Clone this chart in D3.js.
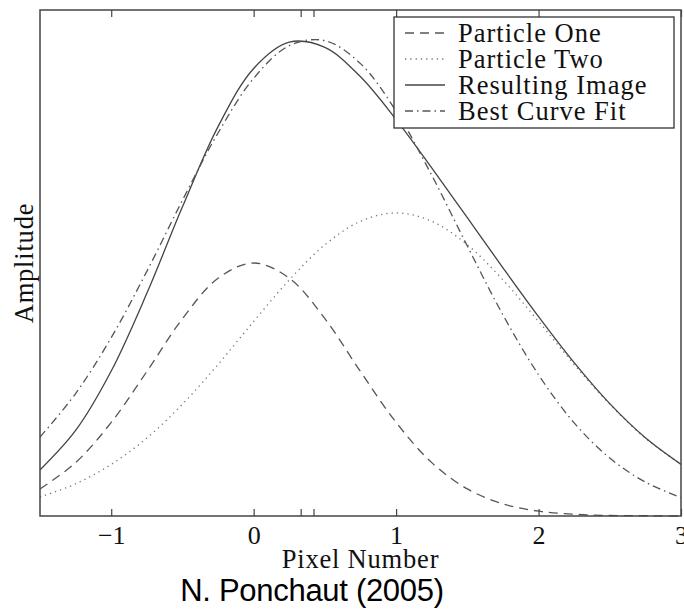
<!DOCTYPE html>
<html>
<head>
<meta charset="utf-8">
<script src="https://cdnjs.cloudflare.com/ajax/libs/d3/7.8.5/d3.min.js"></script>
<style>
  body { margin: 0; background: #fff; }
  .tick line { stroke: #444; stroke-width: 1.2; }
  .tick text { font-family: "Liberation Serif", serif; font-size: 26px; fill: #111; }
</style>
</head>
<body>
<div id="chart"></div>
<script>
var svgWidth = 684;
var svgHeight = 612;

var margin = { top: 10, right: 3, bottom: 96, left: 40 };

var width = svgWidth - margin.left - margin.right;
var height = svgHeight - margin.top - margin.bottom;

// pixel positions sampled along the axis
var pixelNumber = [-1.5, -1.25, -1, -0.75, -0.5, -0.25, 0, 0.25, 0.5, 0.75, 1, 1.25, 1.5, 1.75, 2, 2.25, 2.5, 2.75, 3];

// amplitude (relative units)
var particleOne = [0.107, 0.211, 0.370, 0.571, 0.780, 0.940, 1.000, 0.940, 0.780, 0.571, 0.370, 0.211, 0.107, 0.048, 0.019, 0.007, 0.002, 0.001, 0.000];
var particleTwo = [0.075, 0.127, 0.204, 0.308, 0.442, 0.599, 0.769, 0.933, 1.072, 1.165, 1.198, 1.165, 1.072, 0.933, 0.769, 0.599, 0.442, 0.308, 0.204];
var resultingImage = [0.182, 0.338, 0.573, 0.880, 1.222, 1.539, 1.769, 1.873, 1.852, 1.736, 1.567, 1.376, 1.179, 0.981, 0.788, 0.606, 0.444, 0.309, 0.204];
var bestCurveFit = [0.312, 0.484, 0.705, 0.967, 1.248, 1.514, 1.730, 1.859, 1.879, 1.788, 1.600, 1.347, 1.067, 0.795, 0.558, 0.368, 0.229, 0.134, 0.073];

// labelled ticks plus the two peak markers
var tickLabels = [-1, 0, 1, 2, 3];
var peakMarks = [0.33, 0.42];

var seriesNames = ["Particle One", "Particle Two", "Resulting Image", "Best Curve Fit"];
var seriesData = [particleOne, particleTwo, resultingImage, bestCurveFit];
var seriesDash = ["9,6", "1.3,4", null, "8,4,1.5,4"];
var seriesColor = ["#555", "#777", "#444", "#555"];

var svg = d3.select("#chart")
    .append("svg")
    .attr("width", svgWidth)
    .attr("height", svgHeight);

var chartGroup = svg.append("g")
    .attr("transform", `translate(${margin.left}, ${margin.top})`);

// scales
var xScale = d3.scaleLinear().domain([-1.5, 3]).range([0, width]);
var yScale = d3.scaleLinear().domain([0, 2]).range([height, 0]);

// curves
var line = d3.line()
    .x((d, i) => xScale(pixelNumber[i]))
    .y(d => yScale(d))
    .curve(d3.curveCatmullRom);

seriesData.forEach(function (vals, i) {
    chartGroup.append("path")
        .datum(vals)
        .attr("d", line)
        .attr("fill", "none")
        .attr("stroke", seriesColor[i])
        .attr("stroke-width", 1.3)
        .attr("stroke-dasharray", seriesDash[i]);
});

// axes: ticks point inward on bottom and top
var allTicks = tickLabels.concat(peakMarks);
var fmt = d => tickLabels.indexOf(d) >= 0 ? d3.format("d")(d) : "";

var bottomAxis = d3.axisBottom(xScale)
    .tickValues(allTicks)
    .tickFormat(fmt)
    .tickSizeInner(-7)
    .tickSizeOuter(0)
    .tickPadding(10);

var topAxis = d3.axisTop(xScale)
    .tickValues(allTicks)
    .tickFormat("")
    .tickSizeInner(-7)
    .tickSizeOuter(0);

var bx = chartGroup.append("g")
    .attr("transform", `translate(0, ${height})`)
    .call(bottomAxis);
bx.select(".domain").remove();

var tx = chartGroup.append("g").call(topAxis);
tx.select(".domain").remove();

// frame
chartGroup.append("rect")
    .attr("width", width)
    .attr("height", height)
    .attr("fill", "none")
    .attr("stroke", "#444")
    .attr("stroke-width", 1.5);

// axis labels
chartGroup.append("text")
    .attr("x", width / 2)
    .attr("y", height + 52)
    .attr("text-anchor", "middle")
    .style("font-family", "'Liberation Serif', serif")
    .style("font-size", "26.5px")
    .style("letter-spacing", "0.8px")
    .style("fill", "#111")
    .text("Pixel Number");

chartGroup.append("text")
    .attr("transform", "rotate(-90)")
    .attr("x", -height / 2)
    .attr("y", -7)
    .attr("text-anchor", "middle")
    .style("font-family", "'Liberation Serif', serif")
    .style("font-size", "26.5px")
    .style("letter-spacing", "0.8px")
    .style("fill", "#111")
    .text("Amplitude");

// credit
svg.append("text")
    .attr("x", 312)
    .attr("y", 601)
    .attr("text-anchor", "middle")
    .style("font-family", "'Liberation Sans', Arial, sans-serif")
    .style("font-size", "31px")
    .style("letter-spacing", "-0.3px")
    .style("fill", "#000")
    .text("N. Ponchaut (2005)");

// legend
var legend = svg.append("g").attr("transform", "translate(394, 17)");

legend.append("rect")
    .attr("width", 280)
    .attr("height", 111)
    .attr("fill", "#fff")
    .attr("stroke", "#333")
    .attr("stroke-width", 1.3);

seriesNames.forEach(function (name, i) {
    var yy = 25 + i * 26;
    legend.append("line")
        .attr("x1", 11)
        .attr("x2", 51)
        .attr("y1", yy - 9)
        .attr("y2", yy - 9)
        .attr("stroke", seriesColor[i])
        .attr("stroke-width", 1.3)
        .attr("stroke-dasharray", seriesDash[i]);
    legend.append("text")
        .attr("x", 64)
        .attr("y", yy)
        .style("font-family", "'Liberation Serif', serif")
        .style("font-size", "26.5px")
        .style("letter-spacing", "1px")
        .style("fill", "#111")
        .text(name);
});
</script>
</body>
</html>
